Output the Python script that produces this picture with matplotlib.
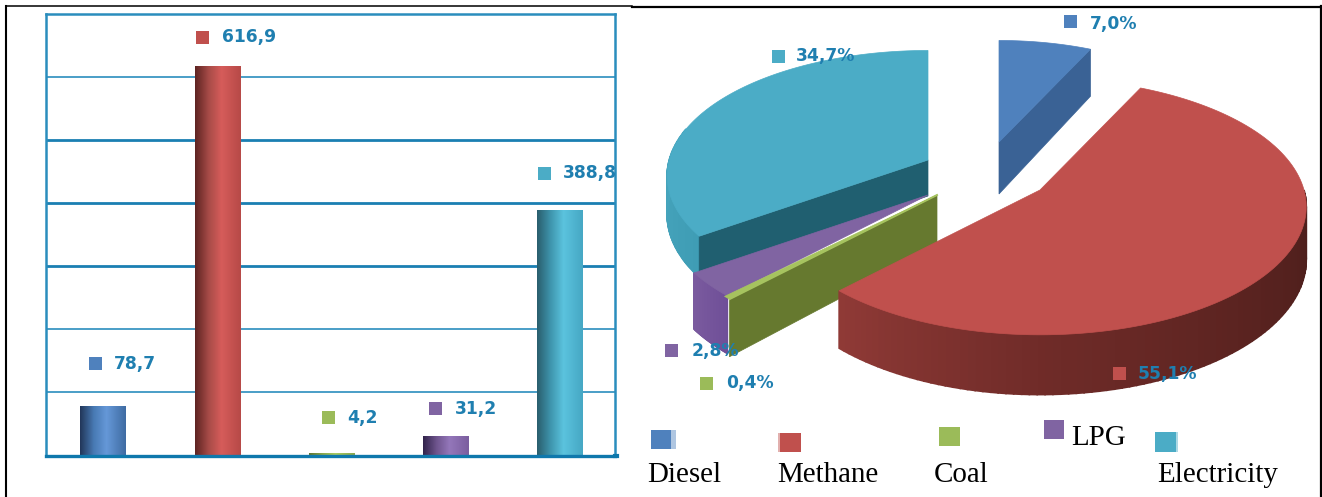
import numpy as np
import matplotlib
matplotlib.use('Agg')
import matplotlib.pyplot as plt
from matplotlib.colors import LinearSegmentedColormap, to_rgb
from matplotlib.patches import Polygon, Rectangle

W, H = 1322, 497

categories = ['Diesel', 'Methane', 'Coal', 'LPG', 'Electricity']
bar_values = [78.7, 616.9, 4.2, 31.2, 388.8]
pie_shares = [7.0, 55.1, 0.4, 2.8, 34.7]
y_ticks = [100, 200, 300, 400, 500, 600]
grid_widths = [1.2, 1.2, 2.0, 2.0, 2.0, 1.2]

main_colors = ['#4f81bd', '#c0504d', '#9bbb59', '#8064a2', '#4bacc6']
label_color = '#1f7fb0'
grid_color = '#2a8dbd'

bar_ramps = [
    ['#22375a', '#487ab4', '#6598d8', '#3f6ca3'],
    ['#5e2422', '#a84c48', '#d65c5a', '#b74a47'],
    ['#5f7530', '#8aa84e', '#a8ca62', '#8aa84e'],
    ['#33244c', '#6f558e', '#9477ba', '#7b5e9f'],
    ['#2a5f6e', '#3f96ae', '#5bc3de', '#46a8c4'],
]

LABEL_FONT = dict(family='DejaVu Sans', fontsize=12.3, fontweight='bold', color=label_color,
                  ha='left', va='center')


def px_axes(fig, left, top, right, bottom):
    return fig.add_axes([left / W, 1 - bottom / H, (right - left) / W, (bottom - top) / H])


def fmt(v, suffix=''):
    return '{:.1f}'.format(v).replace('.', ',') + suffix


fig = plt.figure(figsize=(W / 100, H / 100), dpi=100, facecolor='white')

# page coordinates, used for the table rules and the legend
page = fig.add_axes([0, 0, 1, 1], zorder=0)
page.set_xlim(0, W)
page.set_ylim(H, 0)
page.axis('off')
page.plot([6, 6], [6, H], color='black', lw=1.5)
page.plot([6, 632], [6.2, 6.2], color='black', lw=1.1)
page.plot([632, 1320.5], [6.8, 6.8], color='black', lw=1.6)
page.plot([1320.5, 1320.5], [6, H], color='black', lw=1.6)

# ---- bar chart ----
ax = px_axes(fig, 46, 13.6, 615, 455.6)
ax.set_zorder(1)
ax.patch.set_alpha(0)
x = np.arange(len(categories))
bars = ax.bar(x, bar_values, width=0.4, color=main_colors, zorder=3)
for b, ramp in zip(bars, bar_ramps):
    cm = LinearSegmentedColormap.from_list('bar', list(zip([0, 0.3, 0.58, 1], ramp)))
    im = ax.imshow(np.linspace(0, 1, 64).reshape(1, -1), cmap=cm, aspect='auto', zorder=4,
                   extent=(b.get_x(), b.get_x() + b.get_width(), 0, b.get_height()))
    im.set_clip_path(b)
ax.set_xlim(-0.5, 4.48)
ax.set_ylim(0, 700)
for t, lw in zip(y_ticks, grid_widths):
    ax.axhline(t, color=grid_color if lw < 2 else '#1a7fb2', lw=lw, zorder=1)
for name, side in ax.spines.items():
    side.set_color(grid_color)
    side.set_linewidth(1.8)
ax.spines['bottom'].set_color('#0f78ac')
ax.spines['bottom'].set_linewidth(2.4)
ax.spines['bottom'].set_zorder(6)
ax.set_xticks([])
ax.set_yticks([])

# label offsets in pixels from the bar centre and top
ux = 569 / 4.98
uy = (455.6 - 13.6) / 700
tag_pos = [(-14.5, 42), (-21, 29), (-10, 35), (-17, 27), (-22.5, 37)]
for i, v in enumerate(bar_values):
    dx, dy = tag_pos[i]
    sq_x = i + dx / ux
    y = v + dy / uy
    ax.add_patch(Rectangle((sq_x, y - 6.5 / uy), 13 / ux, 13 / uy, color=main_colors[i], lw=0, zorder=8))
    ax.text(sq_x + 25.5 / ux, y, fmt(v), zorder=9, clip_on=True, **LABEL_FONT)
ax.plot([4.48, 4.5], [0, 0], color='#0f78ac', lw=3, clip_on=False, zorder=5)

# ---- exploded 3D pie, in pixel coordinates ----
pie = fig.add_axes([0, 0, 1, 1], zorder=2)
pie.set_xlim(0, W)
pie.set_ylim(H, 0)
pie.axis('off')
pie.patch.set_alpha(0)

RX, RY, PERSP, DEPTH = 264.0, 126.0, 0.13, 52.0


def rim(cx, cy, clock, r=1.0):
    # clock is in degrees from 12 o'clock, going clockwise
    u = np.sin(np.radians(clock)) * r
    v = np.cos(np.radians(clock)) * r
    s = 1 / (1 + PERSP * v)
    return cx + RX * u * s, cy - RY * v * s, s


def top_face(cx, cy, a0, a1, color, r=1.0, z=3):
    th = np.linspace(a0, a1, 120)
    xs, ys, _ = rim(cx, cy, th, r)
    pts = np.vstack([[cx, cy], np.column_stack([xs, ys])])
    pie.add_patch(Polygon(pts, closed=True, facecolor=color, edgecolor=color, lw=0.5, zorder=z))


def outer_side(cx, cy, a0, a1, colors, r=1.0, z=3, n=90, depth=DEPTH):
    # outer wall built from narrow strips so the shade can drift along the rim
    th = np.linspace(a0, a1, n + 1)
    xs, ys, ss = rim(cx, cy, th, r)
    stops = np.array([to_rgb(c) for c in colors])
    pos = np.linspace(0, 1, len(colors))
    for i in range(n):
        f = i / max(n - 1, 1)
        col = [np.interp(f, pos, stops[:, k]) for k in range(3)]
        pts = [(xs[i], ys[i]), (xs[i + 1], ys[i + 1]),
               (xs[i + 1], ys[i + 1] + depth * ss[i + 1]), (xs[i], ys[i] + depth * ss[i])]
        pie.add_patch(Polygon(pts, closed=True, facecolor=col, edgecolor=col, lw=1.2, zorder=z))


def radial_wall(cx, cy, clock, color, r=1.0, z=3, depth=DEPTH):
    ex, ey, es = rim(cx, cy, clock, r)
    pts = [(cx, cy), (ex, ey), (ex, ey + depth * es), (cx, cy + depth)]
    pie.add_patch(Polygon(pts, closed=True, facecolor=color, edgecolor=color, lw=0.5, zorder=z))


edges = np.cumsum([0] + pie_shares)
edges = edges / edges[-1] * 360
diesel_start, methane_start, coal_start, lpg_start, elec_start, pie_end = edges

# electricity
outer_side(928, 160, elec_start, elec_start + 50, ['#3f9db5', '#4aa8c0'], r=0.98, z=2, depth=38)
radial_wall(928, 160, elec_start, '#205f70', r=0.98, z=2.2, depth=36)
top_face(928, 160, elec_start, pie_end, main_colors[4], r=0.98, z=2.4)
# lpg, run slightly under the coal sliver so no gap shows between them
outer_side(928, 195, lpg_start - 1.5, elec_start, ['#6f4f98', '#7a5a9e'], z=3)
top_face(928, 195, lpg_start - 1.5, elec_start, main_colors[3], z=3.2)
# coal
radial_wall(937, 195, coal_start, '#66792f', r=1.03, z=3.4)
top_face(937, 195, coal_start, lpg_start, '#a6c35f', r=1.03, z=3.5)
pie.plot(*np.array([[937, 195], rim(937, 195, coal_start, 1.03)[:2]]).T, color='#a6c35f', lw=1.4, zorder=3.6)
# methane, shade getting lighter towards the front left
outer_side(1040, 190, 90, coal_start, ['#4a1e1b', '#5a2320', '#6f2b28', '#8f3a36'], z=4)
top_face(1040, 190, methane_start, coal_start, main_colors[1], z=4.5)
# diesel
radial_wall(999, 142, methane_start, '#3a6295', r=0.9, z=5)
top_face(999, 142, diesel_start, methane_start, main_colors[0], r=0.9, z=5.2)

pie_tags = [(1064, 21.5, 1090, 24), (1113, 373.5, 1138, 373.5), (700, 383, 726, 383),
            (665, 350, 692, 351), (772, 56, 796, 56)]
for (sq_x, y, tx, ty), share, col in zip(pie_tags, pie_shares, main_colors):
    pie.add_patch(Rectangle((sq_x, y - 6.5), 13, 13, color=col, lw=0, zorder=8))
    pie.text(tx, ty, fmt(share, '%'), zorder=9, **LABEL_FONT)

# ---- legend ----
legend_boxes = [(651, 430, 20, 19), (780, 433, 21, 19), (939, 427, 21, 19), (1044, 420, 20, 19), (1155, 432, 21, 20)]
legend_names = [(647, 482), (777, 482), (934, 482), (1071, 445), (1157, 482)]
for name, (bx, by, bw, bh), (tx, ty), col in zip(categories, legend_boxes, legend_names, main_colors):
    page.add_patch(Rectangle((bx, by), bw, bh, color=col, lw=0))
    page.text(tx, ty, name, family='Liberation Serif', fontsize=20.9, color='black',
              ha='left', va='baseline')
page.add_patch(Rectangle((671, 430), 5, 19, color=main_colors[0], alpha=0.45, lw=0))
page.add_patch(Rectangle((778, 433), 2, 19, color=main_colors[1], alpha=0.45, lw=0))
page.add_patch(Rectangle((1176, 432), 2, 20, color=main_colors[4], alpha=0.45, lw=0))

fig.savefig('out.png', dpi=100)
